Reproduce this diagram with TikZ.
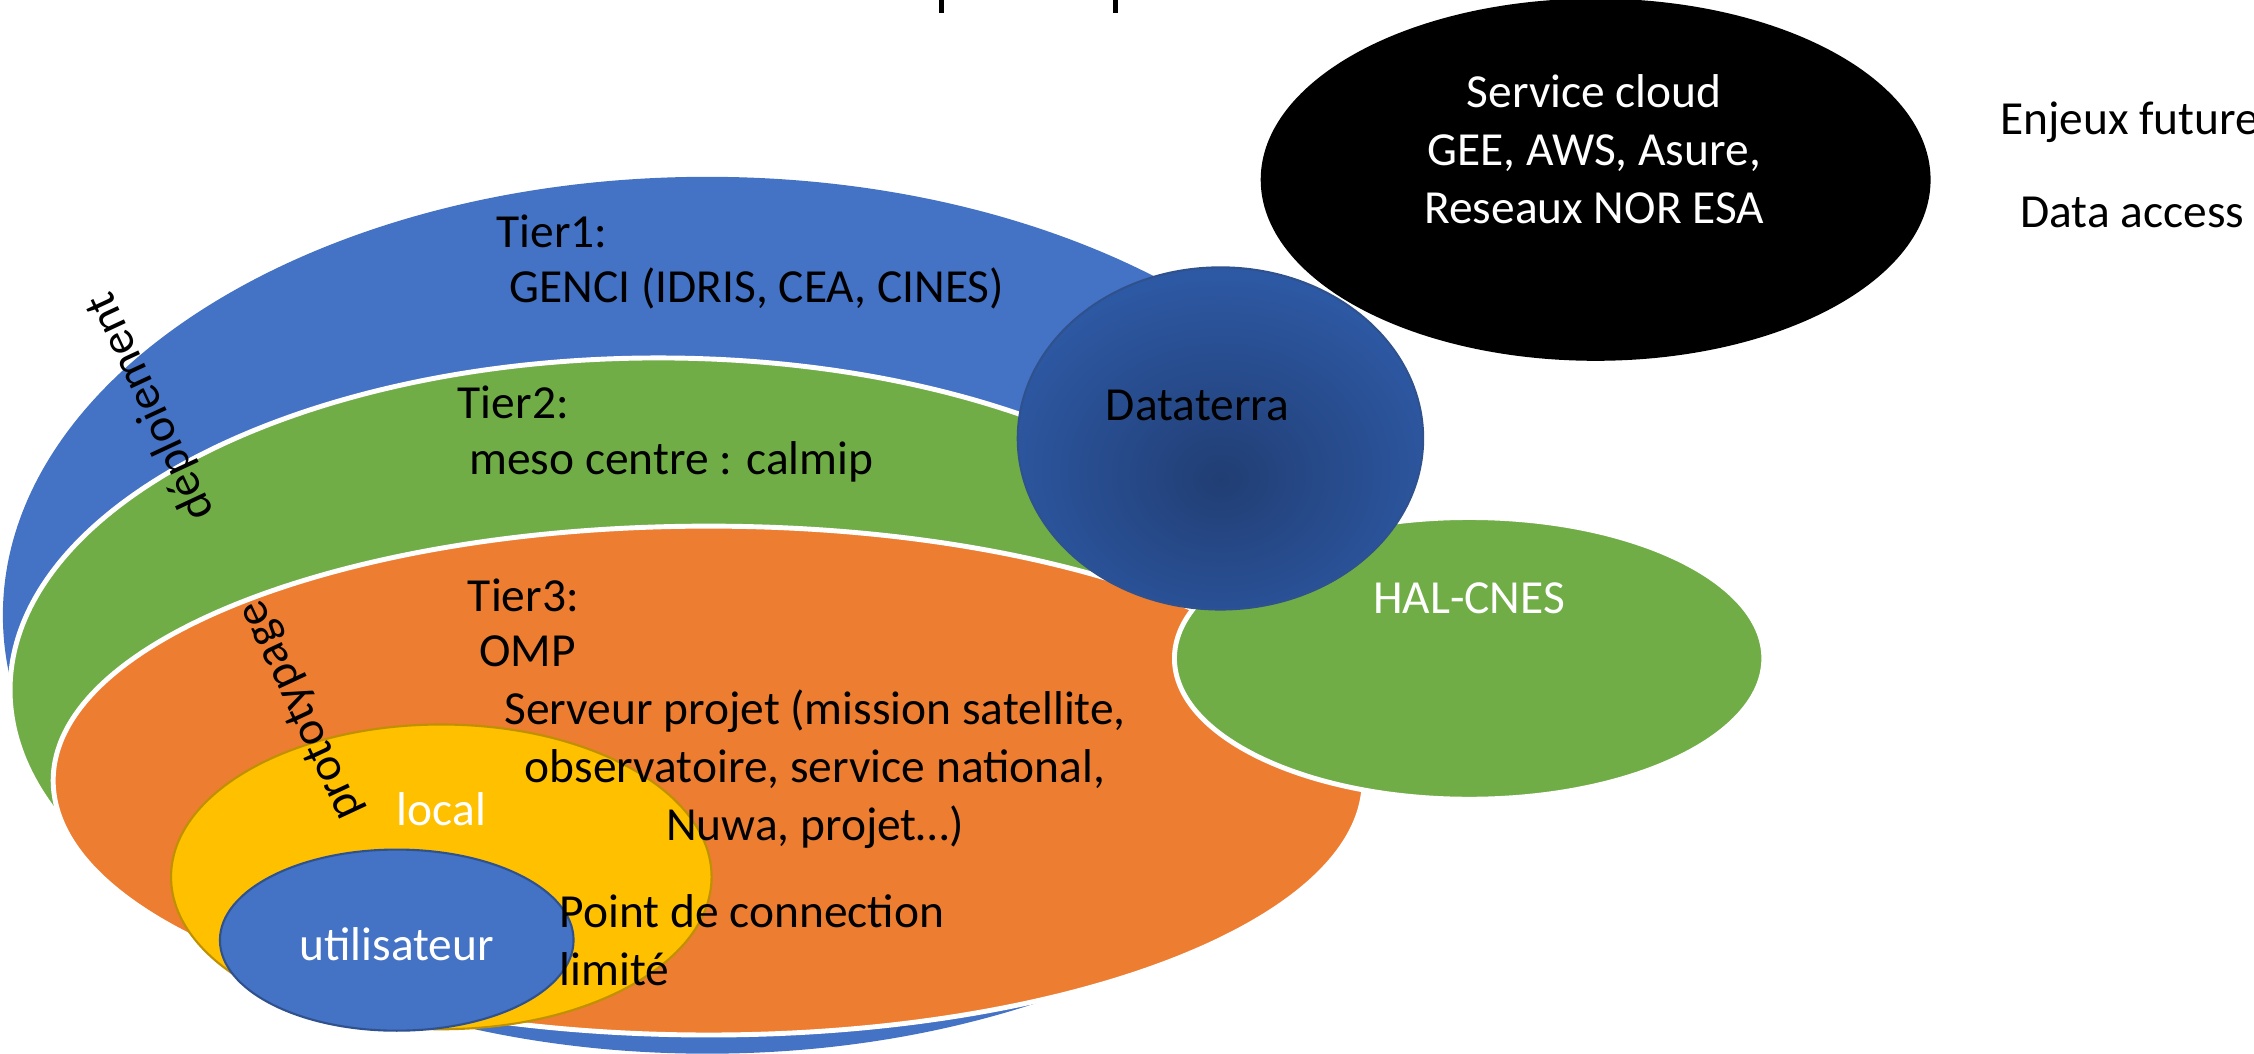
\documentclass[tikz,border=0pt]{standalone}
\usepackage{fontspec}
\setmainfont{Carlito}
\usetikzlibrary{positioning}
\definecolor{tierblue}{RGB}{68,114,196}
\definecolor{tiergreen}{RGB}{112,173,71}
\definecolor{tierorange}{RGB}{237,125,49}
\definecolor{localgold}{RGB}{255,192,0}
\definecolor{golddark}{RGB}{191,144,0}
\definecolor{edgeblue}{RGB}{47,82,143}
\definecolor{dtdark}{RGB}{33,62,116}
\definecolor{dtblue}{RGB}{51,101,186}
\pgfdeclareradialshading{dtshade}{\pgfpoint{0bp}{-6bp}}{color(0bp)=(dtdark); color(42bp)=(dtblue); color(100bp)=(dtblue)}
\tikzset{
  lbl/.style={font=\fontsize{13.5}{16.5}\selectfont, inner sep=0pt},
  ring/.style={draw=white, line width=1.4pt},
}

\begin{document}
\begin{tikzpicture}[x=0.014375cm, y=-0.014375cm]
        \clip (0,0) rectangle (1568,733);

        % Title, cut off at the top
        \fill (653,0) rectangle (657,9);
        \fill (774,0) rectangle (778,9);

        % Tiers
        \fill[tierblue] (492,428) ellipse [x radius=490, y radius=305];
        \filldraw[ring, fill=tiergreen] (458,480) ellipse [x radius=451, y radius=231];
        \filldraw[ring, fill=tierorange] (493,543) ellipse [x radius=456, y radius=177];

        % Side centres
        \filldraw[ring, fill=tiergreen] (1022,458) ellipse [x radius=205, y radius=98];
        \draw[edgeblue, shading=dtshade, line width=0.6pt] (849,305) ellipse [x radius=141, y radius=119];
        \fill (1110,125) ellipse [x radius=233, y radius=126];

        % Local and user
        \filldraw[draw=golddark, fill=localgold, line width=0.6pt] (307,610) ellipse [x radius=188, y radius=106];
        \filldraw[draw=edgeblue, fill=tierblue, line width=0.6pt] (276,654) ellipse [x radius=123, y radius=63];

        % Labels
        \node[lbl, anchor=west] (tierone) at (345,161) {Tier1:};
        \node[lbl, anchor=west] (genci) at (354,201) {GENCI (IDRIS, CEA, CINES)};
        \node[lbl, anchor=west] (tiertwo) at (318,280) {Tier2:};
        \node[lbl, anchor=west] (meso) at (326,321) {meso centre : calmip};
        \node[lbl, anchor=west] (tierthree) at (325,414) {Tier3:};
        \node[lbl, anchor=west] (omp) at (333,453) {OMP};
        \node[lbl, align=center] (serveur) at (567,535) {Serveur projet (mission satellite,\\observatoire, service national,\\Nuwa, projet…)};
        \node[lbl, white] (local) at (307,563) {local};
        \node[lbl, white] (user) at (276,657) {utilisateur};
        \node[lbl, anchor=west, align=left] (point) at (389,654) {Point de connection\\limité};
        \node[lbl] (dataterra) at (833,282) {Dataterra};
        \node[lbl, white] (hal) at (1022,416) {HAL-CNES};
        \node[lbl, white, align=center] (cloud) at (1109,104) {Service cloud\\GEE, AWS, Asure,\\Reseaux NOR ESA};
        \node[lbl, anchor=west] (enjeux) at (1391,85) {Enjeux future};
        \node[lbl, anchor=west] (access) at (1405,148) {Data access};

        % Rotated side labels
        \node[lbl, rotate=115] (deploi) at (105,283) {déploiement};
        \node[lbl, rotate=115] (proto) at (210,494) {prototypage};
    \end{tikzpicture}
\end{document}
